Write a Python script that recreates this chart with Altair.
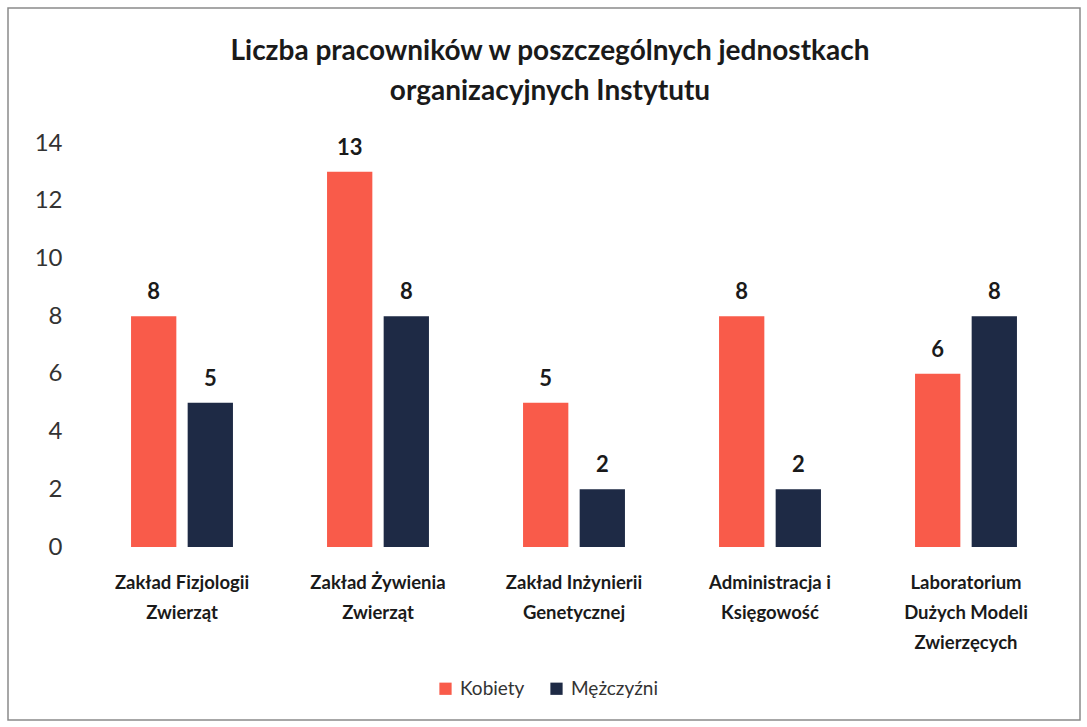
import altair as alt
import pandas as pd

categories = [
    "Zakład Fizjologii|Zwierząt",
    "Zakład Żywienia|Zwierząt",
    "Zakład Inżynierii|Genetycznej",
    "Administracja i|Księgowość",
    "Laboratorium|Dużych Modeli|Zwierzęcych",
]
series = ["Kobiety", "Mężczyźni"]
kobiety = [8, 13, 5, 8, 6]
mezczyzni = [5, 8, 2, 2, 8]
colors = ["#F95B4A", "#1E2A45"]

rows = []
for c, k, m in zip(categories, kobiety, mezczyzni):
    rows.append({"cat": c, "ser": series[0], "val": k})
    rows.append({"cat": c, "ser": series[1], "val": m})
df = pd.DataFrame(rows)

FONT = "Lato"

base = alt.Chart(df).encode(
    x=alt.X("cat:N", sort=categories, title=None,
            scale=alt.Scale(paddingInner=0.48, paddingOuter=0.24),
            axis=alt.Axis(labelExpr="split(datum.label, '|')", labelAngle=0,
                          labelFont=FONT, labelFontWeight="bold", labelFontSize=18.5,
                          labelColor="#1a1a1a", labelLineHeight=30, labelPadding=26,
                          domain=False, ticks=False, labelLimit=300)),
    xOffset=alt.XOffset("ser:N", sort=series, scale=alt.Scale(paddingInner=0.2)),
)

bars = base.mark_bar().encode(
    y=alt.Y("val:Q", title=None,
            scale=alt.Scale(domain=[0, 14]),
            axis=alt.Axis(values=[0, 2, 4, 6, 8, 10, 12, 14], grid=False, domain=False,
                          ticks=False, labelFont=FONT, labelFontSize=24,
                          labelColor="#333333", labelPadding=22)),
    color=alt.Color("ser:N", sort=series, title=None,
                    scale=alt.Scale(domain=series, range=colors),
                    legend=alt.Legend(orient="none", legendX=352, legendY=536,
                                      direction="horizontal", symbolType="square",
                                      symbolSize=150, labelFont=FONT, labelFontSize=19,
                                      labelColor="#333333", columnPadding=22,
                                      symbolStrokeWidth=0, labelOffset=5)),
)

labels = base.mark_text(baseline="bottom", dy=-12, font=FONT, fontWeight="bold",
                        fontSize=22, color="#1a1a1a").encode(
    y="val:Q", text="val:Q")

frame = alt.Chart(pd.DataFrame({"a": [0]})).mark_rect(
    fill=None, stroke="#8a8a8a", strokeWidth=1.5).encode(
    x=alt.value(-76), x2=alt.value(996), y=alt.value(-135), y2=alt.value(577))

chart = alt.layer(frame, bars, labels).properties(
    width=980, height=404,
    title=alt.TitleParams(
        ["Liczba pracowników w poszczególnych  jednostkach", "organizacyjnych Instytutu"],
        font=FONT, fontSize=28, fontWeight="bold", color="#1a1a1a",
        anchor="middle", dx=-24, offset=34, dy=133, lineHeight=40),
    autosize=alt.AutoSizeParams(type="none"),
    padding={"left": 84, "top": 143, "right": 23, "bottom": 180},
    background="white",
).configure_view(stroke=None)

chart.save("out.html", embed_options={"renderer": "svg", "actions": False})
